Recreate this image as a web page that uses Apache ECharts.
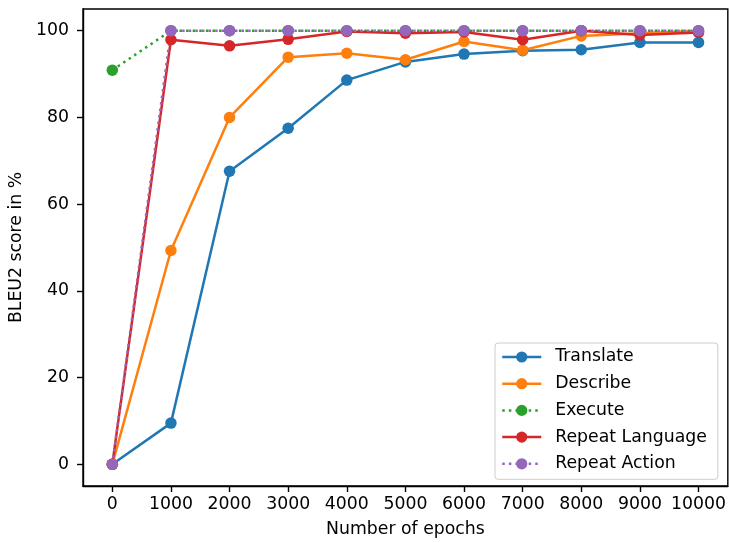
<!DOCTYPE html>
<html>
<head>
<meta charset="utf-8">
<script src="https://cdn.jsdelivr.net/npm/echarts@6/dist/echarts.min.js"></script>
<style>
html,body{margin:0;padding:0;background:#fff;}
#chart{width:729px;height:543px;}
</style>
</head>
<body>
<div id="chart"></div>
<script>
const epochs = [0, 1000, 2000, 3000, 4000, 5000, 6000, 7000, 8000, 9000, 10000];
const translate = [0, 9.5, 67.6, 77.5, 88.6, 92.8, 94.6, 95.4, 95.6, 97.3, 97.3];
const describe = [0, 49.3, 80.0, 93.9, 94.8, 93.3, 97.5, 95.5, 98.8, 99.4, 99.9];
const execute = [90.9, 100, 100, 100, 100, 100, 100, 100, 100, 100, 100];
const repeatLanguage = [0, 97.9, 96.5, 98.0, 99.8, 99.4, 99.7, 97.9, 100, 99.0, 99.6];
const repeatAction = [0, 100, 100, 100, 100, 100, 100, 100, 100, 100, 100];
const xTicks = [0, 1000, 2000, 3000, 4000, 5000, 6000, 7000, 8000, 9000, 10000];
const yTicks = [0, 20, 40, 60, 80, 100];

const FONT = 'DejaVu Sans';
const FS = 17.3;
const LW = 2.5;
const SYM = 11.5;
const DOT = [2.5, 4.1];

function mk(name, vals, color, dotted) {
  return {
    name: name,
    type: 'line',
    data: epochs.map((e, i) => [e, vals[i]]),
    symbol: 'circle',
    symbolSize: SYM,
    showSymbol: true,
    itemStyle: { color: color, borderWidth: 0 },
    lineStyle: { color: color, width: LW, type: dotted ? DOT : 'solid' },
    emphasis: { disabled: true },
    z: 2
  };
}

const chart = echarts.init(document.getElementById('chart'), null, { renderer: 'canvas' });
chart.setOption({
  animation: false,
  backgroundColor: '#fff',
  textStyle: { fontFamily: FONT },
  grid: {
    left: 83, right: 1, top: 9, bottom: 54,
    show: true, borderColor: '#000', borderWidth: 1.4, backgroundColor: 'transparent'
  },
  xAxis: {
    type: 'value',
    min: -500, max: 10500,
    name: 'Number of epochs',
    nameLocation: 'middle',
    nameGap: 35,
    nameTextStyle: { fontFamily: FONT, fontSize: FS, color: '#000' },
    axisLine: { show: true, onZero: false, lineStyle: { color: '#000', width: 1.4 } },
    axisTick: { show: true, length: 6, lineStyle: { color: '#000', width: 1.4 }, customValues: xTicks },
    axisLabel: { fontFamily: FONT, fontSize: FS, color: '#000', margin: 10, customValues: xTicks, formatter: v => String(v) },
    splitLine: { show: false }
  },
  yAxis: {
    type: 'value',
    min: -5, max: 105,
    name: 'BLEU2 score in %',
    nameLocation: 'middle',
    nameGap: 56,
    nameRotate: 90,
    nameTextStyle: { fontFamily: FONT, fontSize: FS, color: '#000' },
    axisLine: { show: true, onZero: false, lineStyle: { color: '#000', width: 1.4 } },
    axisTick: { show: true, length: 6, lineStyle: { color: '#000', width: 1.4 }, customValues: yTicks },
    axisLabel: { fontFamily: FONT, fontSize: FS, color: '#000', margin: 14, customValues: yTicks, formatter: v => String(v) },
    splitLine: { show: false }
  },
  legend: {
    orient: 'vertical',
    left: 495, top: 343,
    padding: [5.5, 11, 7, 6],
    itemWidth: 39, itemHeight: 14,
    itemGap: 9.7,
    backgroundColor: 'rgba(255,255,255,0.8)',
    borderColor: '#cccccc', borderWidth: 1, borderRadius: 3,
    lineStyle: { width: 2.5 },
    textStyle: { fontFamily: FONT, fontSize: FS, color: '#000', lineHeight: 17, padding: [0, 0, 0, 9] },
    selectedMode: false,
    data: ['Translate', 'Describe', 'Execute', 'Repeat Language', 'Repeat Action']
  },
  series: [
    mk('Translate', translate, '#1f77b4', false),
    mk('Describe', describe, '#ff7f0e', false),
    mk('Execute', execute, '#2ca02c', true),
    mk('Repeat Language', repeatLanguage, '#d62728', false),
    mk('Repeat Action', repeatAction, '#9467bd', true)
  ]
});
</script>
</body>
</html>
